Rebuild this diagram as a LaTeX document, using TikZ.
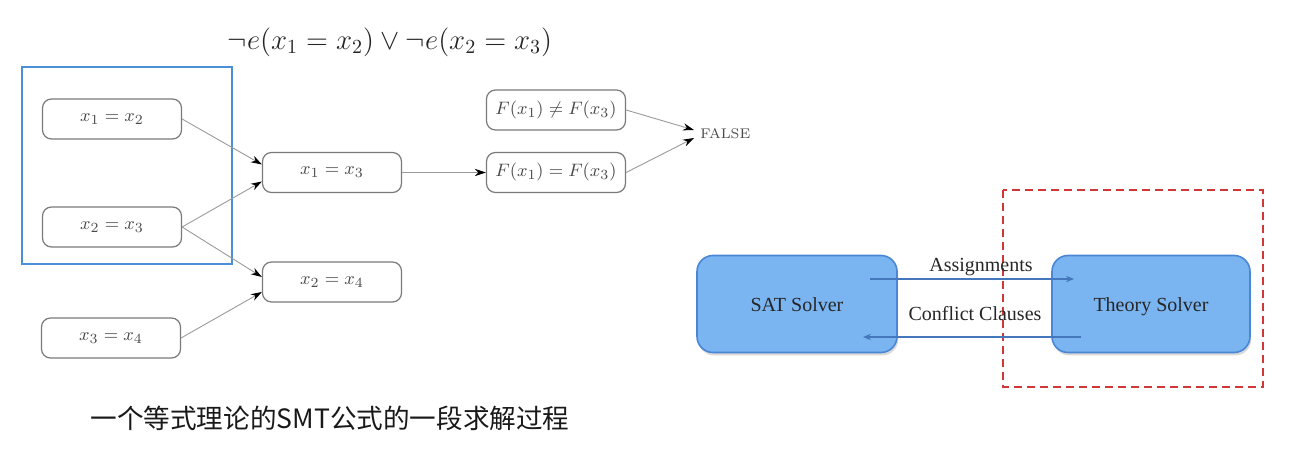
\documentclass[tikz,border=0pt]{standalone}
\usepackage{fontspec}
\usepackage{amssymb}
\setmainfont{Latin Modern Roman}
\newfontfamily\timesfont{Liberation Serif}
\newfontfamily\cjk{Noto Sans CJK SC}
\usetikzlibrary{arrows.meta,shadows}
\definecolor{nodegray}{HTML}{7A7A7A}
\definecolor{textgray}{HTML}{4A4A4A}
\definecolor{edgegray}{HTML}{9A9A9A}
\definecolor{boxblue}{HTML}{4A8FD8}
\definecolor{solverfill}{HTML}{7AB5F2}
\definecolor{solverdraw}{HTML}{4A86D4}
\definecolor{arrowblue}{HTML}{4477BB}
\definecolor{dashred}{HTML}{D03838}
\tikzset{
  eqnode/.style={draw=nodegray, line width=0.6pt, rounded corners=4.5pt,
    minimum width=69.5pt, minimum height=20pt, inner sep=0pt,
    text=textgray, font=\fontsize{9.3}{11}\selectfont},
  conn/.style={draw=edgegray, line width=0.45pt,
    -{Stealth[length=5.5pt,width=3.6pt,color=black]}},
  solver/.style={draw=solverdraw, fill=solverfill, line width=0.8pt,
    rounded corners=8pt, minimum width=100pt, minimum height=48.5pt,
    inner sep=0pt, text height=10pt, text depth=2.2pt,
    font=\timesfont\fontsize{10}{12}\selectfont, text=black!85,
    drop shadow={shadow xshift=0.6pt, shadow yshift=-1.5pt, opacity=0.3}},
  sarrow/.style={draw=arrowblue, line width=0.6pt,
    -{Stealth[length=4pt,width=3.2pt]}},
  slabel/.style={font=\timesfont\fontsize{10}{12}\selectfont, text=black!85, inner sep=0pt}
}
\begin{document}
\begin{tikzpicture}[x=0.5pt,y=-0.5pt]
\useasboundingbox (0,0) rectangle (1290,458);
% formula
\node[font=\fontsize{14}{17}\selectfont, text=black!85] (formula) at (390,42)
  {$\neg e(x_1 = x_2)\vee\neg e(x_2 = x_3)$};
% blue frame
\draw[boxblue, line width=1pt] (22,67) rectangle (232,264);
% nodes
\node[eqnode] (a12) at (112,119) {$x_1 = x_2$};
\node[eqnode] (a23) at (112,227) {$x_2 = x_3$};
\node[eqnode] (a34) at (111,338) {$x_3 = x_4$};
\node[eqnode] (a13) at (332,172.5) {$x_1 = x_3$};
\node[eqnode] (a24) at (332,282) {$x_2 = x_4$};
\node[eqnode] (fne) at (556,110) {$F(x_1)\neq F(x_3)$};
\node[eqnode] (feq) at (556,172.5) {$F(x_1)=F(x_3)$};
\node[font=\fontsize{7}{8}\selectfont, text=textgray, inner sep=0pt, anchor=west] (false) at (700,134) {FALSE};
% edges
\draw[conn] (a12.east) -- ([yshift=4pt]a13.west);
\draw[conn] (a23.east) -- ([yshift=-4.5pt]a13.west);
\draw[conn] (a23.east) -- ([yshift=2.5pt]a24.west);
\draw[conn] (a34.east) -- ([yshift=-5pt]a24.west);
\draw[conn] (a13.east) -- (feq.west);
\draw[conn] (fne.east) -- ([xshift=-3pt,yshift=2pt]false.west);
\draw[conn] (feq.east) -- ([xshift=-3pt,yshift=-2pt]false.west);
% solvers
\node[solver] (sat) at (797,304) {SAT Solver};
\node[solver, minimum width=99pt] (theory) at (1151,304) {Theory Solver};
\draw[dashred, line width=1pt, dash pattern=on 4pt off 2.5pt] (1003,190) rectangle (1263,387);
\coordinate (assS) at (870,279);
\coordinate (assE) at (1074,279);
\coordinate (conS) at (1081,337);
\coordinate (conE) at (863,337);
\draw[sarrow] (assS) -- (assE);
\draw[sarrow] (conS) -- (conE);
\node[slabel] (asslbl) at (981,267) {Assignments};
\node[slabel] (conlbl) at (975,314) {Conflict Clauses};
% caption
\node[font=\cjk\fontsize{13.3}{16}\selectfont, text=black!90, inner sep=0pt] (cap) at (330,418)
  {一个等式理论的SMT公式的一段求解过程};
\end{tikzpicture}
\end{document}
